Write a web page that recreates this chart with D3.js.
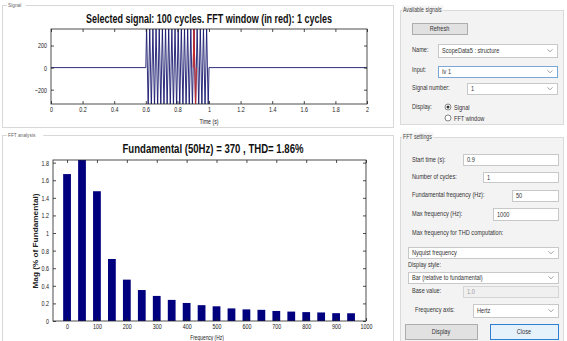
<!DOCTYPE html>
<html>
<head>
<meta charset="utf-8">
<script src="https://cdn.jsdelivr.net/npm/d3@7"></script>
<style>
  body { margin: 0; background: #fff; }
  svg { display: block; font-family: "Liberation Sans", Arial, sans-serif; }
</style>
</head>
<body>
<svg id="fig" width="567" height="341"></svg>
<script>
// selected signal (s, A) - flat, then 20 cycles of 50Hz, then flat
const sigT = [0, 0.6, 0.605, 0.615, 0.625, 0.635, 0.645, 0.655, 0.665, 0.675, 0.685, 0.695,
  0.705, 0.715, 0.725, 0.735, 0.745, 0.755, 0.765, 0.775, 0.785, 0.795,
  0.805, 0.815, 0.825, 0.835, 0.845, 0.855, 0.865, 0.875, 0.885, 0.895,
  0.905, 0.915, 0.925, 0.935, 0.945, 0.955, 0.965, 0.975, 0.985, 0.995, 1.0, 2.0]
const sigV = [0, 0, 370, -370, 370, -370, 370, -370, 370, -370, 370, -370,
  370, -370, 370, -370, 370, -370, 370, -370, 370, -370,
  370, -370, 370, -370, 370, -370, 370, -370, 370, -370,
  370, -370, 370, -370, 370, -370, 370, -370, 370, -370, 0, 0]
// FFT window (red)
const winT = [0.9, 0.905, 0.915, 0.92]
const winV = [0, 370, -370, 0]

const timeTicks = [0, 0.2, 0.4, 0.6, 0.8, 1, 1.2, 1.4, 1.6, 1.8, 2]
const ampTicks = [-200, 0, 200]

// harmonic spectrum (% of fundamental)
const harmFreq = [0, 50, 100, 150, 200, 250, 300, 350, 400, 450, 500, 550, 600, 650, 700, 750, 800, 850, 900, 950]
const harmMag = [1.67, 100, 1.475, 0.705, 0.47, 0.352, 0.285, 0.24, 0.205, 0.18, 0.167, 0.143, 0.132, 0.127, 0.114, 0.107, 0.101, 0.097, 0.089, 0.088]
const freqTicks = [0, 100, 200, 300, 400, 500, 600, 700, 800, 900, 1000]
const magTicks = [0, 0.2, 0.4, 0.6, 0.8, 1, 1.2, 1.4, 1.6, 1.8]

const titleTop = 'Selected signal: 100 cycles. FFT window (in red): 1 cycles'
const titleBottom = 'Fundamental (50Hz) = 370 , THD= 1.86%'

const svg = d3.select('#fig')

const squeeze = (sel, k) => sel.each(function () {
  const w = this.getComputedTextLength()
  d3.select(this).attr('textLength', w * k).attr('lengthAdjust', 'spacingAndGlyphs')
})

// ---------- left panels ----------
svg.append('rect').attr('x', 2.5).attr('y', 5.5).attr('width', 391).attr('height', 122)
  .attr('fill', '#fff').attr('stroke', '#d8d8d8')
svg.append('rect').attr('x', 2.5).attr('y', 135.5).attr('width', 391).attr('height', 210)
  .attr('fill', '#fff').attr('stroke', '#d8d8d8')
const panelLabel = (x, y, t) => {
  const tx = svg.append('text').attr('x', x).attr('y', y).text(t)
    .style('font-size', '6px').style('fill', '#666')
  const bb = tx.node().getBBox()
  svg.insert('rect', () => tx.node()).attr('x', bb.x - 1).attr('y', bb.y).attr('width', bb.width + 2)
    .attr('height', bb.height).attr('fill', '#fff')
  squeeze(tx, 0.8)
}
panelLabel(8, 7, 'Signal')
panelLabel(8, 137, 'FFT analysis')

const drawAxes = (cfg) => {
  const { x, y, xTicks, yTicks, left, right, top, bottom } = cfg
  const fmt = d3.format('~g')
  const g = svg.append('g')
  const ax = g.append('g').attr('transform', `translate(0,${bottom})`)
    .call(d3.axisBottom(x).tickValues(xTicks).tickFormat(fmt).tickSize(-3).tickPadding(3).tickSizeOuter(0))
  g.append('g').attr('transform', `translate(0,${top})`)
    .call(d3.axisTop(x).tickValues(xTicks).tickFormat('').tickSize(-3).tickSizeOuter(0))
  const ay = g.append('g').attr('transform', `translate(${left},0)`)
    .call(d3.axisLeft(y).tickValues(yTicks).tickFormat(fmt).tickSize(-3).tickPadding(4).tickSizeOuter(0))
  g.append('g').attr('transform', `translate(${right},0)`)
    .call(d3.axisRight(y).tickValues(yTicks).tickFormat('').tickSize(-3).tickSizeOuter(0))
  g.selectAll('.domain').remove()
  g.selectAll('.tick line').attr('stroke', '#222').attr('stroke-width', 0.8)
  g.selectAll('.tick text').style('font-size', '7.5px').style('font-family', '"Liberation Sans", Arial, sans-serif')
    .attr('fill', '#222')
  squeeze(ax.selectAll('.tick text'), 0.72)
  squeeze(ay.selectAll('.tick text'), 0.72)
  g.append('rect').attr('x', left).attr('y', top).attr('width', right - left).attr('height', bottom - top)
    .attr('fill', 'none').attr('stroke', '#222').attr('stroke-width', 0.8)
}

const clip = (id, l, r, t, b) => {
  svg.append('clipPath').attr('id', id).append('rect')
    .attr('x', l).attr('y', t).attr('width', r - l).attr('height', b - t)
  return `url(#${id})`
}

// ---------- top plot: signal ----------
const top1 = { left: 51, right: 367, top: 29, bottom: 104 }
const xT = d3.scaleLinear().domain([0, 2]).range([top1.left, top1.right])
const yA = d3.scaleLinear().domain([-330, 350]).range([top1.bottom, top1.top])

const c1 = clip('c1', top1.left, top1.right, top1.top, top1.bottom)
const sigLine = d3.line().x((d) => xT(d[0])).y((d) => yA(d[1]))
svg.append('path').datum(sigT.map((t, i) => [t, sigV[i]]))
  .attr('clip-path', c1).attr('fill', 'none').attr('stroke', '#17176e').attr('stroke-width', 0.9)
  .attr('d', sigLine)
svg.append('path').datum(winT.map((t, i) => [t, winV[i]]))
  .attr('clip-path', c1).attr('fill', 'none').attr('stroke', '#c82828').attr('stroke-width', 1)
  .attr('d', sigLine)

drawAxes({ x: xT, y: yA, xTicks: timeTicks, yTicks: ampTicks, ...top1 })

svg.append('text').attr('x', 209).attr('y', 23).attr('text-anchor', 'middle')
  .style('font-size', '12.5px').style('font-weight', 'bold').attr('fill', '#111').text(titleTop)
  .attr('textLength', 246).attr('lengthAdjust', 'spacingAndGlyphs')
squeeze(svg.append('text').attr('x', 209).attr('y', 124).attr('text-anchor', 'middle')
  .style('font-size', '7px').attr('fill', '#222').text('Time (s)'), 0.75)

// ---------- bottom plot: spectrum ----------
const bot = { left: 53, right: 366, top: 160, bottom: 321 }
const xF = d3.scaleLinear().domain([-47, 1000]).range([bot.left, bot.right])
const yM = d3.scaleLinear().domain([0, 1.83]).range([bot.bottom, bot.top])
const c2 = clip('c2', bot.left, bot.right, bot.top, bot.bottom)
const barHalf = 13

svg.append('g').attr('clip-path', c2).selectAll('rect').data(harmFreq).enter()
  .append('rect')
  .attr('x', (d) => xF(d - barHalf))
  .attr('width', (d) => xF(d + barHalf) - xF(d - barHalf))
  .attr('y', (d, i) => yM(harmMag[i]))
  .attr('height', (d, i) => yM(0) - yM(harmMag[i]))
  .attr('fill', '#00007f')

drawAxes({ x: xF, y: yM, xTicks: freqTicks, yTicks: magTicks, ...bot })

svg.append('text').attr('x', 213).attr('y', 153).attr('text-anchor', 'middle')
  .style('font-size', '12.5px').style('font-weight', 'bold').attr('fill', '#111').text(titleBottom)
  .attr('textLength', 181).attr('lengthAdjust', 'spacingAndGlyphs')
squeeze(svg.append('text').attr('x', 207).attr('y', 339.5).attr('text-anchor', 'middle')
  .style('font-size', '6.5px').attr('fill', '#222').text('Frequency (Hz)'), 0.75)
svg.append('text').attr('transform', 'translate(38,241) rotate(-90)').attr('text-anchor', 'middle')
  .style('font-size', '7px').style('font-weight', 'bold').attr('fill', '#222')
  .text('Mag (% of Fundamental)').attr('textLength', 95).attr('lengthAdjust', 'spacingAndGlyphs')

// ---------- right GUI ----------
const gui = svg.append('g')
const label = (x, y, t, opt = {}) => {
  const tx = gui.append('text').attr('x', x).attr('y', y).text(t)
    .style('font-size', opt.size || '7px').attr('fill', opt.color || '#333')
    .attr('text-anchor', opt.anchor || 'start')
  squeeze(tx, opt.k || 0.8)
  return tx
}
const group = (x, y, w, h, t) => {
  gui.append('rect').attr('x', x + 0.5).attr('y', y + 0.5).attr('width', w).attr('height', h)
    .attr('fill', '#f3f3f3').attr('stroke', '#dadada')
  const tx = label(x + 3, y + 1.5, t, { color: '#444', size: '6.5px' })
  const bb = tx.node().getBBox()
  gui.insert('rect', () => tx.node()).attr('x', bb.x - 1).attr('y', bb.y).attr('width', bb.width + 2)
    .attr('height', bb.height).attr('fill', '#f3f3f3')
}
const field = (x, y, w, h, t, opt = {}) => {
  gui.append('rect').attr('x', x + 0.5).attr('y', y + 0.5).attr('width', w).attr('height', h)
    .attr('fill', opt.fill || '#fff').attr('stroke', opt.stroke || '#c8c8c8')
  if (t) label(x + 4, y + h / 2 + 2.5, t, { color: opt.color || '#333' })
}
const dropdown = (x, y, w, h, t, opt = {}) => {
  field(x, y, w, h, t, opt)
  const cx = x + w - 7, cy = y + h / 2
  gui.append('path').attr('d', `M${cx - 2.5},${cy - 1.2}L${cx},${cy + 1.3}L${cx + 2.5},${cy - 1.2}`)
    .attr('fill', 'none').attr('stroke', '#888').attr('stroke-width', 0.8)
}
const button = (x, y, w, h, t, opt = {}) => {
  gui.append('rect').attr('x', x + 0.5).attr('y', y + 0.5).attr('width', w).attr('height', h)
    .attr('fill', opt.fill || '#e1e1e1').attr('stroke', opt.stroke || '#adadad')
  label(x + w / 2, y + h / 2 + 2.5, t, { anchor: 'middle' })
}
const radio = (x, y, t, on) => {
  gui.append('circle').attr('cx', x).attr('cy', y).attr('r', 3).attr('fill', '#fff').attr('stroke', '#555').attr('stroke-width', 0.7)
  if (on) gui.append('circle').attr('cx', x).attr('cy', y).attr('r', 1.5).attr('fill', '#333')
  label(x + 6, y + 2.5, t)
}

group(400, 10, 163, 114, 'Available signals')
button(412, 23, 55, 11, 'Refresh')
label(412, 52, 'Name:')
dropdown(438, 44, 119, 13, 'ScopeData5 : structure')
label(412, 72, 'Input:')
dropdown(438, 66, 119, 11, 'Iv 1', { stroke: '#7aa7d6' })
label(412, 90, 'Signal number:')
dropdown(467, 83, 90, 11, '1')
label(412, 109, 'Display:')
radio(448, 107, 'Signal', true)
radio(448, 118, 'FFT window', false)

group(400, 137, 163, 210, 'FFT settings')
label(412, 162, 'Start time (s):')
field(463, 154, 95, 11, '0.9')
label(412, 179, 'Number of cycles:')
field(483, 172, 75, 10, '1')
label(412, 197, 'Fundamental frequency (Hz):')
field(512, 190, 46, 11, '50')
label(412, 216, 'Max frequency (Hz):')
field(493, 208, 65, 12, '1000')
label(412, 235, 'Max frequency for THD computation:')
dropdown(408, 247, 150, 11, 'Nyquist frequency')
label(408, 267, 'Display style:')
dropdown(408, 272, 150, 11, 'Bar (relative to fundamental)')
label(412, 293, 'Base value:')
field(463, 286, 95, 11, '1.0', { fill: '#f0f0f0', stroke: '#d4d4d4', color: '#999' })
label(415, 312, 'Frequency axis:')
dropdown(473, 304, 85, 13, 'Hertz')
button(405, 324, 72, 15, 'Display')
button(490, 324, 68, 15, 'Close', { fill: '#e5f1fb', stroke: '#2f7fd0' })
</script>
</body>
</html>
